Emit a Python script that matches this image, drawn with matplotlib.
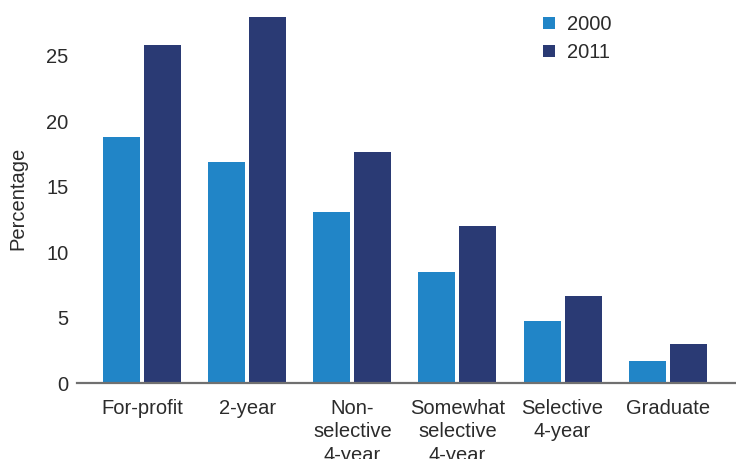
import matplotlib
matplotlib.use("Agg")
import matplotlib.pyplot as plt
from matplotlib.patches import Patch
import numpy as np

plt.rcParams['font.family'] = ['Liberation Sans', 'DejaVu Sans']

categories = ["For-profit", "2-year", "Non-\nselective\n4-year",
              "Somewhat\nselective\n4-year", "Selective\n4-year", "Graduate"]
series_names = ["2000", "2011"]
values_2000 = [18.8, 16.9, 13.1, 8.5, 4.75, 1.7]
values_2011 = [25.8, 28.0, 17.7, 12.0, 6.7, 3.0]
yticks = [0, 5, 10, 15, 20, 25]

c2000 = "#2185C7"
c2011 = "#2A3A74"
text_color = "#2b2b2b"
fs = 14.5

fig = plt.figure(figsize=(7.36, 4.59), dpi=100)
ax = fig.add_axes([77/736, 1 - 383.3/459, 1 - 77/736, (383.3 - 14)/459])

x = np.arange(len(categories))
w = 0.352
off = 0.195
ax.bar(x - off, values_2000, width=w, color=c2000)
ax.bar(x + off, values_2011, width=w, color=c2011)

ax.set_xlim(-0.62, 5.65)
ax.set_ylim(0, 28.2)
ax.set_yticks(yticks)
ax.set_yticklabels([str(t) for t in yticks])
ax.set_xticks(x)
ax.set_xticklabels(categories, linespacing=1.32)

for s in ["top", "right", "left"]:
    ax.spines[s].set_visible(False)
ax.spines["bottom"].set_color("#707070")
ax.spines["bottom"].set_linewidth(1.6)

ax.tick_params(axis="both", length=0, labelsize=fs, colors=text_color)
ax.tick_params(axis="x", pad=11)
ax.tick_params(axis="y", pad=6)
ax.set_ylabel("Percentage", fontsize=fs, color=text_color, labelpad=14)

handles = [Patch(facecolor=c2000), Patch(facecolor=c2011)]
fig.legend(handles, series_names, loc="upper left",
           bbox_to_anchor=(543/736, 1 - 15/459), bbox_transform=fig.transFigure,
           frameon=False, fontsize=fs, handlelength=0.6, handleheight=0.6,
           handletextpad=0.6, labelspacing=0.45, borderpad=0, borderaxespad=0,
           labelcolor=text_color)

fig.savefig("out.png", dpi=100)
